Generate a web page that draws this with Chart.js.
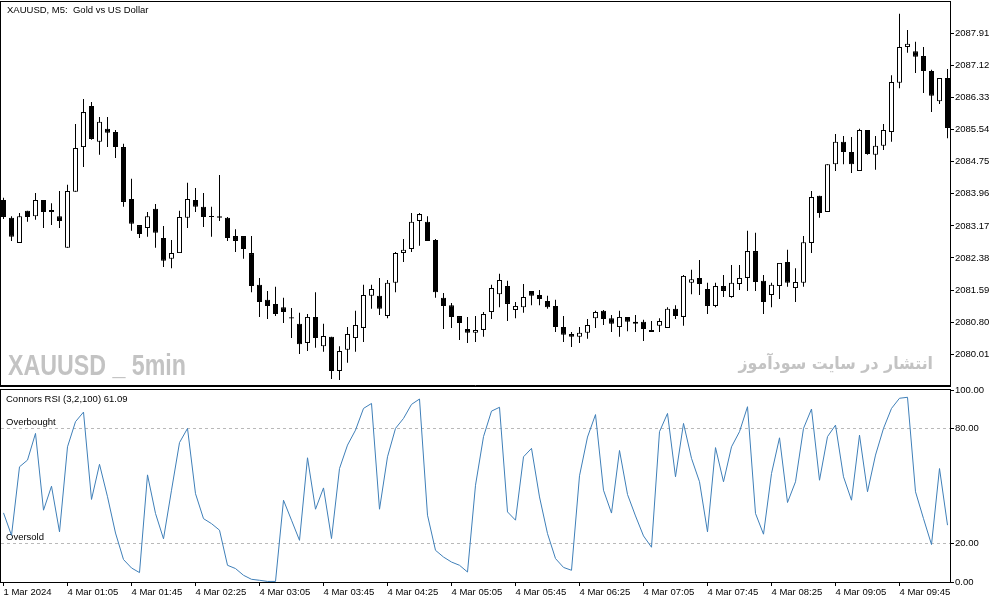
<!DOCTYPE html>
<html>
<head>
<meta charset="utf-8">
<title>XAUUSD M5 - Connors RSI</title>
<script src="https://cdn.jsdelivr.net/npm/chart.js@4.4.1/dist/chart.umd.min.js"></script>
<style>
    html, body { margin: 0; padding: 0; background: #fff; }
    #wrap { position: relative; width: 1003px; height: 603px; overflow: hidden; }
    canvas { position: absolute; left: 0; }
    #priceChart { top: 0; }
    #rsiChart { top: 380px; }
</style>
</head>
<body>
<div id="wrap">
    <canvas id="priceChart" width="1003" height="388"></canvas>
    <canvas id="rsiChart" width="1003" height="223"></canvas>
</div>
<script>
// Candles (5 min bars, 1 Mar 23:25 .. 4 Mar 10:15)
const opens = [
    2083.81, 2083.37, 2082.75, 2083.54, 2083.41, 2083.81, 2083.51, 2083.41, 2082.63, 2084.01,
    2085.11, 2086.12, 2085.24, 2085.56, 2085.48, 2085.11, 2083.83, 2083.19, 2083.12, 2083.59,
    2082.87, 2082.36, 2082.50, 2083.37, 2083.81, 2083.64, 2083.39, 2083.41, 2083.37, 2082.92,
    2082.92, 2082.50, 2081.72, 2081.35, 2081.25, 2081.17, 2080.92, 2080.76, 2080.29, 2080.93,
    2080.21, 2080.44, 2079.60, 2080.12, 2080.41, 2080.66, 2081.45, 2081.45, 2080.95, 2081.77,
    2082.50, 2082.60, 2083.29, 2083.27, 2082.82, 2081.40, 2081.22, 2080.95, 2080.63, 2080.54,
    2080.61, 2081.05, 2081.49, 2081.69, 2081.10, 2081.17, 2081.57, 2081.47, 2081.32, 2081.20,
    2080.68, 2080.51, 2080.44, 2080.54, 2080.90, 2081.08, 2080.90, 2080.68, 2080.93, 2080.81,
    2080.81, 2080.56, 2080.71, 2080.66, 2081.13, 2080.93, 2081.77, 2081.89, 2081.62, 2081.20,
    2081.69, 2081.42, 2081.74, 2081.89, 2082.55, 2081.82, 2081.47, 2081.69, 2082.28, 2081.64,
    2081.77, 2082.75, 2083.91, 2083.51, 2084.69, 2085.24, 2084.99, 2084.52, 2085.53, 2084.92,
    2085.14, 2085.48, 2086.69, 2087.57, 2087.47, 2087.35, 2086.98, 2086.24, 2086.81
];
const highs = [
    2083.86, 2083.41, 2083.49, 2083.54, 2083.98, 2083.81, 2083.73, 2084.03, 2084.18, 2085.68,
    2086.29, 2086.22, 2085.85, 2085.85, 2085.53, 2085.19, 2084.33, 2083.19, 2083.51, 2083.71,
    2083.17, 2082.82, 2083.54, 2084.23, 2084.10, 2083.98, 2083.64, 2084.42, 2083.39, 2083.09,
    2082.92, 2082.92, 2081.89, 2081.57, 2081.67, 2081.40, 2081.15, 2081.03, 2081.00, 2081.54,
    2080.76, 2080.44, 2080.21, 2080.68, 2081.08, 2081.72, 2081.72, 2081.89, 2081.84, 2082.53,
    2082.85, 2083.49, 2083.49, 2083.41, 2082.85, 2081.52, 2081.27, 2080.95, 2080.93, 2080.95,
    2081.05, 2081.72, 2081.99, 2081.82, 2081.30, 2081.74, 2081.57, 2081.59, 2081.45, 2081.35,
    2080.95, 2080.56, 2080.68, 2080.88, 2081.08, 2081.10, 2080.98, 2081.08, 2080.93, 2080.98,
    2080.86, 2080.83, 2080.90, 2081.17, 2081.22, 2081.96, 2082.09, 2082.33, 2081.77, 2081.77,
    2081.96, 2082.21, 2082.21, 2083.05, 2083.00, 2081.96, 2081.77, 2082.26, 2082.58, 2082.13,
    2082.92, 2084.03, 2083.91, 2084.69, 2085.43, 2085.38, 2085.36, 2085.56, 2085.53, 2085.38,
    2085.68, 2086.88, 2088.39, 2087.99, 2087.70, 2087.57, 2087.01, 2086.81, 2087.03
];
const lows = [
    2083.34, 2082.80, 2082.75, 2083.27, 2083.32, 2083.12, 2083.19, 2083.12, 2082.63, 2084.01,
    2084.62, 2085.29, 2084.92, 2085.11, 2084.84, 2083.64, 2083.05, 2082.87, 2082.90, 2082.63,
    2082.16, 2082.13, 2082.50, 2083.12, 2083.51, 2083.14, 2082.90, 2083.29, 2082.80, 2082.53,
    2082.36, 2081.54, 2080.93, 2080.88, 2080.95, 2080.78, 2080.41, 2080.02, 2080.09, 2080.17,
    2080.07, 2079.40, 2079.38, 2079.80, 2080.07, 2080.31, 2081.13, 2080.98, 2080.90, 2081.54,
    2082.28, 2082.53, 2082.68, 2082.80, 2081.40, 2080.63, 2080.66, 2080.36, 2080.29, 2080.31,
    2080.44, 2080.88, 2081.17, 2080.83, 2080.90, 2081.03, 2081.22, 2081.22, 2081.13, 2080.56,
    2080.31, 2080.19, 2080.29, 2080.39, 2080.66, 2080.73, 2080.56, 2080.44, 2080.58, 2080.56,
    2080.34, 2080.56, 2080.56, 2080.66, 2080.88, 2080.71, 2081.49, 2081.47, 2081.00, 2081.17,
    2081.42, 2081.40, 2081.59, 2081.57, 2081.57, 2081.00, 2081.17, 2081.37, 2081.67, 2081.30,
    2081.67, 2082.50, 2083.37, 2083.51, 2084.52, 2084.69, 2084.47, 2084.52, 2084.92, 2084.55,
    2085.04, 2085.24, 2086.56, 2087.43, 2086.93, 2086.44, 2085.97, 2086.17, 2085.33
];
const closes = [
    2083.39, 2082.90, 2083.41, 2083.39, 2083.81, 2083.51, 2083.56, 2083.29, 2084.03, 2085.09,
    2085.97, 2085.31, 2085.73, 2085.46, 2085.11, 2083.76, 2083.22, 2082.97, 2083.41, 2083.00,
    2082.31, 2082.50, 2083.39, 2083.83, 2083.64, 2083.39, 2083.40, 2083.37, 2082.87, 2082.80,
    2082.60, 2081.69, 2081.30, 2081.20, 2081.00, 2081.05, 2080.89, 2080.26, 2080.93, 2080.41,
    2080.46, 2079.60, 2080.09, 2080.51, 2080.73, 2081.47, 2081.62, 2081.13, 2081.77, 2082.50,
    2082.58, 2083.27, 2083.46, 2082.80, 2081.54, 2081.20, 2080.93, 2080.78, 2080.54, 2080.61,
    2081.00, 2081.64, 2081.84, 2081.25, 2081.20, 2081.42, 2081.45, 2081.37, 2081.17, 2080.68,
    2080.49, 2080.44, 2080.54, 2080.73, 2081.05, 2080.88, 2080.76, 2080.93, 2080.81, 2080.76,
    2080.63, 2080.61, 2080.83, 2081.13, 2080.95, 2081.94, 2081.86, 2081.74, 2081.20, 2081.69,
    2081.57, 2081.77, 2081.89, 2082.55, 2081.79, 2081.30, 2081.72, 2082.26, 2081.77, 2081.79,
    2082.77, 2083.88, 2083.49, 2084.69, 2085.24, 2084.99, 2084.69, 2085.53, 2084.94, 2085.14,
    2085.53, 2086.71, 2087.57, 2087.65, 2087.33, 2086.98, 2086.37, 2086.81, 2085.58
];

// Connors RSI (3,2,100), one value per bar
const rsiValues = [
    36.0, 24.3, 60.0, 63.5, 77.4, 37.4, 49.9, 26.1, 70.4, 83.5,
    88.5, 43.0, 61.3, 44.4, 25.5, 11.7, 7.3, 4.9, 55.8, 35.7,
    22.5, 47.8, 72.6, 80.0, 46.0, 33.0, 30.4, 27.0, 8.7, 7.0,
    3.5, 1.4, 0.9, 0.3, 0.3, 42.6, 32.2, 21.7, 64.7, 37.9,
    49.0, 22.6, 59.1, 71.3, 79.1, 90.4, 93.0, 37.9, 65.2, 80.0,
    85.2, 92.5, 95.3, 34.8, 16.5, 13.0, 10.4, 8.7, 5.2, 50.4,
    75.7, 89.0, 91.0, 36.5, 32.2, 65.2, 69.6, 44.3, 25.2, 12.2,
    7.6, 6.1, 55.3, 75.5, 87.2, 47.8, 35.9, 68.5, 45.6, 34.4,
    24.0, 18.1, 78.3, 87.8, 54.8, 82.6, 64.4, 52.2, 26.1, 70.0,
    52.2, 70.4, 78.3, 91.3, 35.7, 24.9, 56.5, 75.1, 41.4, 52.2,
    80.0, 90.1, 53.0, 75.7, 81.7, 54.8, 42.6, 76.5, 47.0, 66.1,
    80.0, 90.4, 95.7, 96.2, 47.0, 33.0, 19.5, 59.1, 29.6
];

// Axis labels
const timeTickLabels = [
    '1 Mar 2024', '4 Mar 01:05', '4 Mar 01:45', '4 Mar 02:25', '4 Mar 03:05',
    '4 Mar 03:45', '4 Mar 04:25', '4 Mar 05:05', '4 Mar 05:45', '4 Mar 06:25',
    '4 Mar 07:05', '4 Mar 07:45', '4 Mar 08:25', '4 Mar 09:05', '4 Mar 09:45'
];
const barsPerTimeTick = 8;
const priceTicks = [2080.01, 2080.80, 2081.59, 2082.38, 2083.17, 2083.96, 2084.75, 2085.54, 2086.33, 2087.12, 2087.91];
const rsiTicks = [0, 20, 80, 100];
const rsiLevels = [20, 80];

const axisFont = { family: 'Liberation Sans', size: 9.5 };
const textFont = '9.5px "Liberation Sans"';

// Both panels share the same bar spacing (8 px per bar)
const xRange = { min: -0.3125, max: 118.3125 };

// fixed axis box, no extra room for half labels
function fixAxis(size) {
    return s => {
        if (s.isHorizontal()) s.height = size; else s.width = size;
        s.paddingTop = 0;
        s.paddingBottom = 0;
        s.paddingLeft = 0;
        s.paddingRight = 0;
    };
}

// Simple text + frame plugin, MetaTrader style
const panelDecor = {
    id: 'panelDecor',
    beforeDatasetsDraw(chart, args, opts) {
        const ctx = chart.ctx;
        (opts.texts || []).forEach(t => {
            ctx.save();
            ctx.font = t.font;
            ctx.fillStyle = t.color || '#000';
            ctx.textAlign = t.align || 'left';
            ctx.textBaseline = 'middle';
            ctx.direction = t.dir || 'ltr';
            ctx.translate(t.x, t.y);
            ctx.scale(t.scaleX || 1, 1);
            ctx.fillText(t.text, 0, 0);
            ctx.restore();
        });
    },
    afterDraw(chart, args, opts) {
        const a = chart.chartArea;
        const ctx = chart.ctx;
        ctx.save();
        ctx.strokeStyle = '#000';
        ctx.lineWidth = 1;
        ctx.strokeRect(a.left - 0.5, a.top - 0.5, a.right - a.left + 1, a.bottom - a.top + 1);
        if (opts.thickBottom) {
            ctx.beginPath();
            ctx.moveTo(0, a.bottom - 0.5);
            ctx.lineTo(a.right + 1, a.bottom - 0.5);
            ctx.stroke();
        }
        ctx.restore();
    }
};

const hidden = 'rgba(0,0,0,0)';

// ---- Price panel ----
const wickData = highs.map((h, i) => ({ x: i, y: [lows[i], h] }));
const bodyData = opens.map((o, i) => ({ x: i, y: [o, closes[i]] }));
const bodyColors = opens.map((o, i) => closes[i] > o ? '#ffffff' : '#000000');

new Chart(document.getElementById('priceChart').getContext('2d'), {
    type: 'bar',
    data: {
        datasets: [
            {
                label: 'body',
                data: bodyData,
                order: 1,
                grouped: false,
                barThickness: 5,
                backgroundColor: bodyColors,
                borderColor: '#000',
                borderWidth: 1,
                borderSkipped: false,
                minBarLength: 1,
                inflateAmount: 0
            },
            {
                label: 'wick',
                data: wickData,
                order: 2,
                grouped: false,
                barThickness: 1,
                backgroundColor: '#000',
                borderWidth: 0,
                inflateAmount: 0
            }
        ]
    },
    options: {
        responsive: false,
        animation: false,
        devicePixelRatio: 1,
        layout: { padding: { top: 2, left: 1, right: 0, bottom: 2 } },
        scales: {
            x: {
                type: 'linear',
                offset: false,
                min: xRange.min,
                max: xRange.max,
                display: false
            },
            y: {
                position: 'right',
                min: 2079.23,
                max: 2088.68,
                afterBuildTicks: s => { s.ticks = priceTicks.map(v => ({ value: v })); },
                afterFit: fixAxis(53),
                border: { display: false },
                grid: { drawOnChartArea: false, tickLength: 4, tickColor: '#000' },
                ticks: {
                    font: axisFont,
                    color: '#000',
                    padding: 1,
                    callback: v => v.toFixed(2)
                }
            }
        },
        plugins: {
            legend: { display: false },
            tooltip: { enabled: false },
            panelDecor: {
                thickBottom: true,
                texts: [
                    { text: 'XAUUSD, M5:  Gold vs US Dollar', x: 7, y: 10, font: textFont },
                    { text: 'XAUUSD _ 5min', x: 8, y: 367, font: 'bold 29px "Liberation Sans"', color: '#c3c3c3', scaleX: 0.8 },
                    { text: 'انتشار در سایت سودآموز', x: 933, y: 365, font: 'bold 17px "DejaVu Sans"', color: '#c3c3c3', align: 'right', dir: 'rtl', scaleX: 0.93 }
                ]
            }
        }
    },
    plugins: [panelDecor]
});

// ---- Connors RSI panel ----
new Chart(document.getElementById('rsiChart').getContext('2d'), {
    type: 'line',
    data: {
        datasets: [{
            label: 'Connors RSI (3,2,100)',
            data: rsiValues.map((v, i) => ({ x: i, y: v })),
            borderColor: '#3f7fb8',
            borderWidth: 1,
            pointRadius: 0,
            tension: 0,
            fill: false
        }]
    },
    options: {
        responsive: false,
        animation: false,
        devicePixelRatio: 1,
        layout: { padding: { top: 10, left: 1, right: 0, bottom: 0 } },
        scales: {
            x: {
                type: 'linear',
                offset: false,
                min: xRange.min,
                max: xRange.max,
                afterBuildTicks: s => { s.ticks = timeTickLabels.map((_, k) => ({ value: k * barsPerTimeTick })); },
                afterFit: fixAxis(21),
                border: { display: false },
                grid: { drawOnChartArea: false, tickLength: 4, tickColor: '#000' },
                ticks: {
                    font: axisFont,
                    color: '#000',
                    align: 'start',
                    padding: 1,
                    maxRotation: 0,
                    autoSkip: false,
                    callback: (v, idx) => timeTickLabels[idx]
                }
            },
            y: {
                position: 'right',
                min: 0,
                max: 100,
                afterBuildTicks: s => { s.ticks = rsiTicks.map(v => ({ value: v })); },
                afterFit: fixAxis(53),
                border: { display: false, dash: [3, 3] },
                grid: {
                    tickLength: 4,
                    tickColor: '#000',
                    tickBorderDash: [],
                    color: c => rsiLevels.includes(c.tick && c.tick.value) ? '#b9b9b9' : hidden
                },
                ticks: {
                    font: axisFont,
                    color: '#000',
                    padding: 1,
                    callback: v => v.toFixed(2)
                }
            }
        },
        plugins: {
            legend: { display: false },
            tooltip: { enabled: false },
            panelDecor: {
                texts: [
                    { text: 'Connors RSI (3,2,100) 61.09', x: 6, y: 19, font: textFont },
                    { text: 'Overbought', x: 6, y: 42, font: textFont },
                    { text: 'Oversold', x: 6, y: 157, font: textFont }
                ]
            }
        }
    },
    plugins: [panelDecor]
});
</script>
</body>
</html>
